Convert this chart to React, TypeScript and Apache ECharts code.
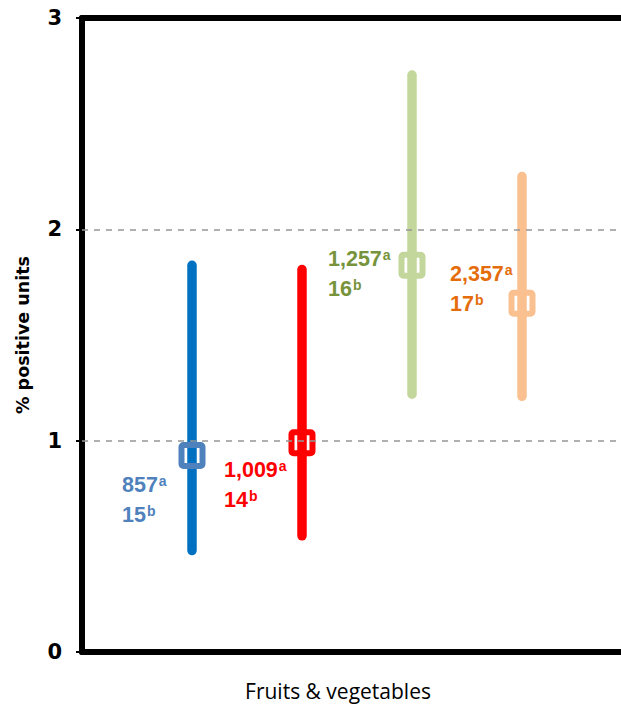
import React, { useEffect, useRef } from "react";
import * as echarts from "echarts";

// Data
const xPositions = [1, 2, 3, 4];
const lows = [0.48, 0.55, 1.22, 1.21];
const highs = [1.83, 1.81, 2.73, 2.25];
const mids = [0.93, 0.99, 1.83, 1.65];
const countLabels = ["857", "1,009", "1,257", "2,357"];
const subLabels = ["15", "14", "16", "17"];
const yTicks = [0, 1, 2, 3];
const gridLevels = [1, 2];
const xAxisTitle = "Fruits & vegetables";
const yAxisTitle = "% positive units";

// Styling
const lineColors = ["#0070C0", "#FF0000", "#C3D69B", "#FAC090"];
const markerColors = ["#4F81BD", "#FF0000", "#C3D69B", "#FAC090"];
const labelColors = ["#4F81BD", "#FF0000", "#77933C", "#E46C0A"];
const labelOffsets: [number, number][] = [
  [-70, 30],
  [-78, 27],
  [-84, -6],
  [-72, -29],
];

export default function App() {
  const ref = useRef<HTMLDivElement>(null);
  useEffect(() => {
    if (!ref.current) return;
    const chart = echarts.init(ref.current, undefined, { renderer: "svg" });
    const data = xPositions.map((x, i) => [x, lows[i], highs[i], mids[i], i]);
    const borderAxis = (position: "top" | "bottom") => ({
      type: "value",
      position,
      min: 0,
      max: 4.9,
      axisLine: { show: true, onZero: false, lineStyle: { color: "#000", width: 6 } },
      axisTick: { show: false },
      axisLabel: { show: false },
      splitLine: { show: false },
    });
    chart.setOption({
      animation: false,
      grid: {
        left: 82,
        top: 18,
        bottom: 52,
        right: 0,
        show: false,
      },
      xAxis: [borderAxis("bottom"), borderAxis("top")],
      yAxis: {
        type: "value",
        min: yTicks[0],
        max: yTicks[yTicks.length - 1],
        interval: 1,
        name: yAxisTitle,
        nameLocation: "middle",
        nameGap: 50,
        nameTextStyle: {
          fontFamily: "DejaVu Sans",
          fontWeight: "bold",
          fontSize: 17.5,
          color: "#000",
        },
        axisLine: { show: true, lineStyle: { color: "#000", width: 6 } },
        axisTick: { show: true, length: 6, lineStyle: { color: "#000", width: 2 } },
        axisLabel: {
          margin: 20,
          fontFamily: "DejaVu Sans",
          fontWeight: "bold",
          fontSize: 21,
          color: "#000",
        },
        splitLine: { show: false },
      },
      graphic: [
        {
          type: "text",
          x: 338,
          y: 691,
          style: {
            text: xAxisTitle,
            fontFamily: "Open Sans",
            fontSize: 21,
            fill: "#000",
            align: "center",
            verticalAlign: "middle",
          },
        },
      ],
      series: [
        {
          type: "custom",
          xAxisIndex: 0,
          data,
          encode: { x: 0, y: [1, 2, 3] },
          markLine: {
            silent: true,
            symbol: "none",
            label: { show: false },
            lineStyle: { color: "#969696", width: 1.5, type: [6, 6] },
            data: gridLevels.map((v) => ({ yAxis: v })),
          },
          renderItem: (params: any, api: any) => {
            const i = api.value(4);
            const x = api.value(0);
            const lo = api.coord([x, api.value(1)]);
            const hi = api.coord([x, api.value(2)]);
            const mid = api.coord([x, api.value(3)]);
            const size = 21;
            const [dx, dy] = labelOffsets[i];
            const c = labelColors[i];
            return {
              type: "group",
              children: [
                {
                  type: "line",
                  shape: { x1: lo[0], y1: lo[1], x2: hi[0], y2: hi[1] },
                  style: { stroke: lineColors[i], lineWidth: 9.5, lineCap: "round" },
                },
                {
                  type: "rect",
                  shape: { x: mid[0] - size / 2, y: mid[1] - size / 2, width: size, height: size, r: 2 },
                  style: { fill: "none", stroke: markerColors[i], lineWidth: 6 },
                },
                {
                  type: "text",
                  x: mid[0] + dx,
                  y: mid[1] + dy - 15,
                  style: {
                    text: `{n|${countLabels[i]}}{s|a}\n{n|${subLabels[i]}}{s|b}`,
                    align: "left",
                    verticalAlign: "top",
                    rich: {
                      n: {
                        fontFamily: "Liberation Sans",
                        fontWeight: "bold",
                        fontSize: 21.5,
                        lineHeight: 30,
                        fill: c,
                        color: c,
                      },
                      s: {
                        fontFamily: "Liberation Sans",
                        fontWeight: "bold",
                        fontSize: 14,
                        lineHeight: 30,
                        verticalAlign: "top",
                        padding: [4, 0, 0, 1],
                        fill: c,
                        color: c,
                      },
                    },
                  },
                },
              ],
            };
          },
        },
      ],
    });
    return () => chart.dispose();
  }, []);
  return (
    <div
      ref={ref}
      style={{ position: "absolute", left: 0, top: 0, width: 621, height: 704 }}
    />
  );
}
